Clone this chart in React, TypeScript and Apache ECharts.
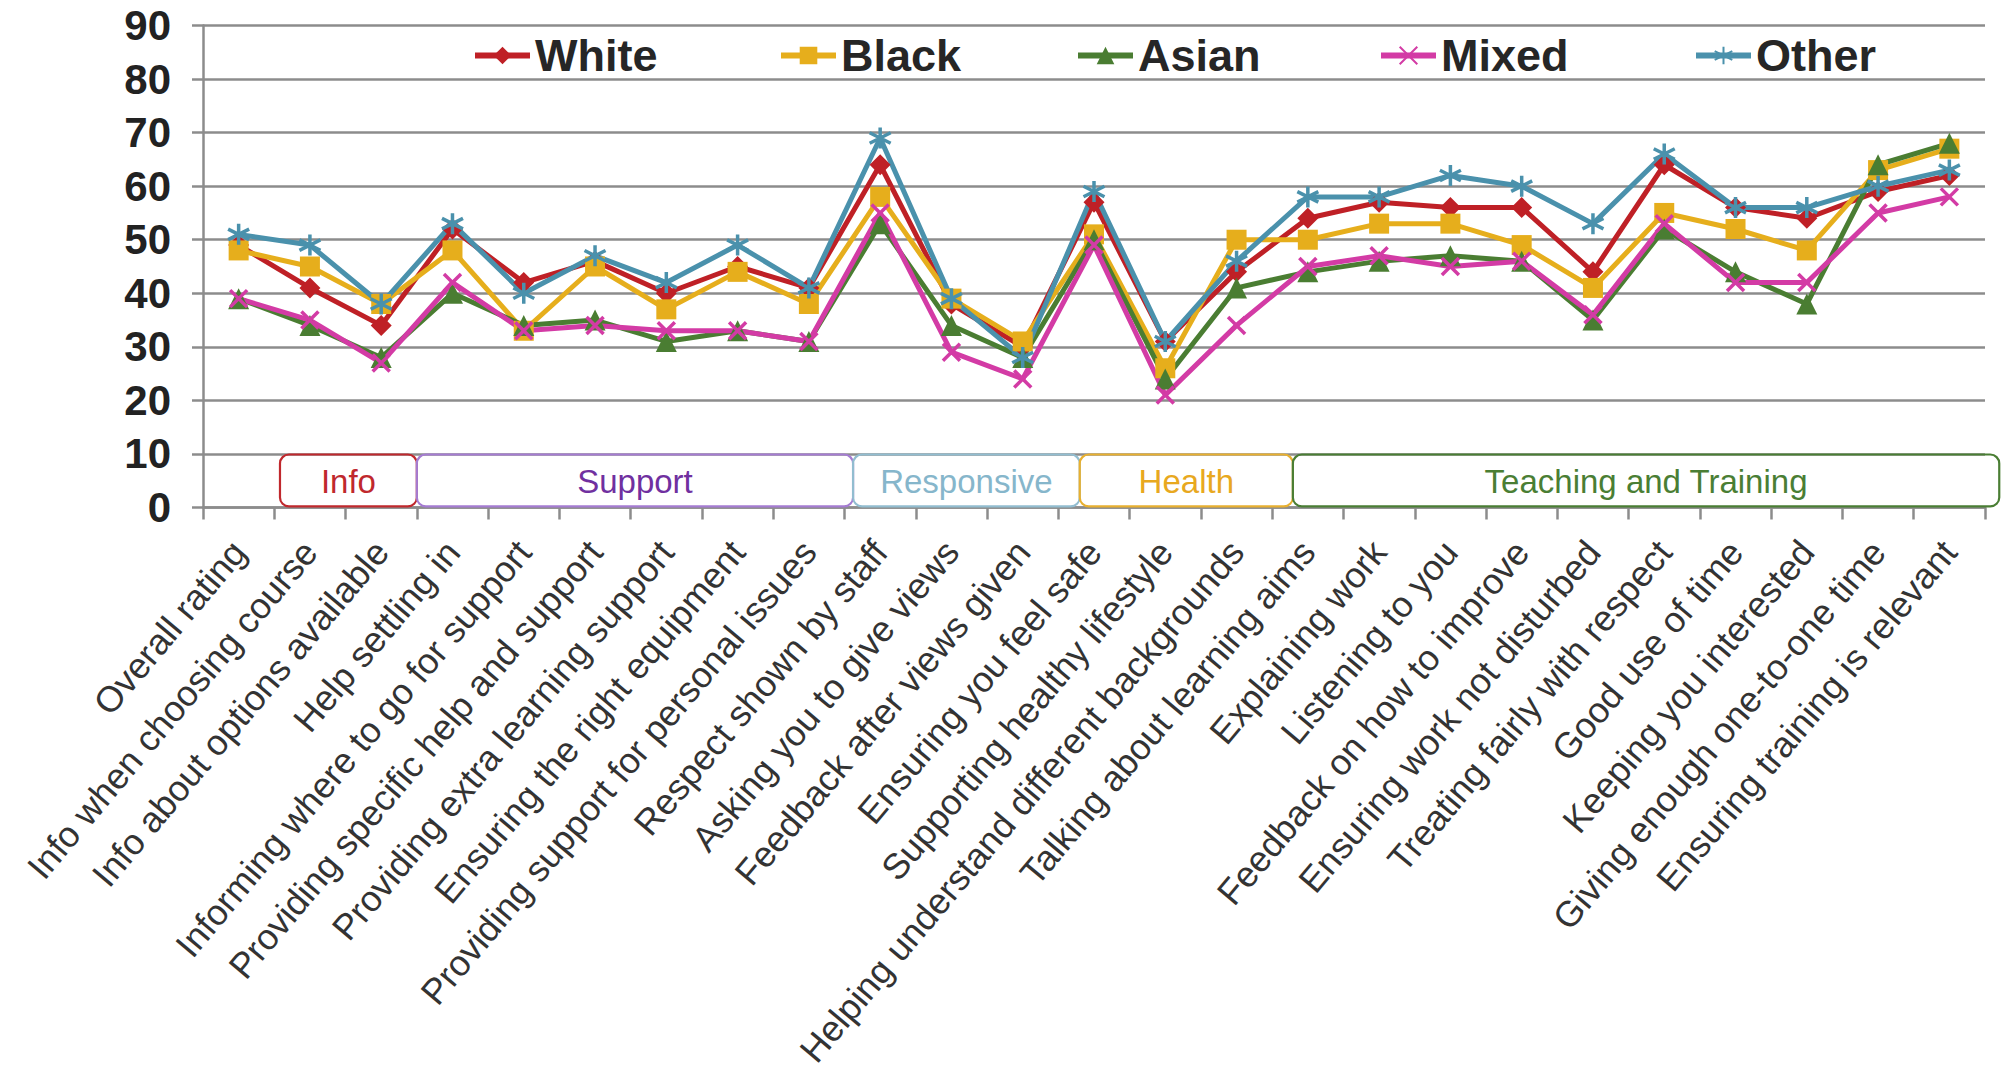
import React, { useEffect, useRef } from "react";
import * as echarts from "echarts";

const categories = [
  "Overall rating",
  "Info when choosing course",
  "Info about options available",
  "Help settling in",
  "Informing where to go for support",
  "Providing specific help and support",
  "Providing extra learning support",
  "Ensuring the right equipment",
  "Providing support for personal issues",
  "Respect shown by staff",
  "Asking you to give views",
  "Feedback after views given",
  "Ensuring you feel safe",
  "Supporting healthy lifestyle",
  "Helping understand different backgrounds",
  "Talking about learning aims",
  "Explaining work",
  "Listening to you",
  "Feedback on how to improve",
  "Ensuring work not disturbed",
  "Treating fairly with respect",
  "Good use of time",
  "Keeping you interested",
  "Giving enough one-to-one time",
  "Ensuring training is relevant",
];

const seriesNames = ["White", "Black", "Asian", "Mixed", "Other"];
const white = [49, 41, 34, 52, 42, 46, 40, 45, 41, 64, 38, 30, 57, 31, 44, 54, 57, 56, 56, 44, 64, 56, 54, 59, 62];
const black = [48, 45, 38, 48, 33, 45, 37, 44, 38, 58, 39, 31, 51, 26, 50, 50, 53, 53, 49, 41, 55, 52, 48, 63, 67];
const asian = [39, 34, 28, 40, 34, 35, 31, 33, 31, 53, 34, 28, 50, 24, 41, 44, 46, 47, 46, 35, 52, 44, 38, 64, 68];
const mixed = [39, 35, 27, 42, 33, 34, 33, 33, 31, 55, 29, 24, 49, 21, 34, 45, 47, 45, 46, 36, 53, 42, 42, 55, 58];
const other = [51, 49, 38, 53, 40, 47, 42, 49, 41, 69, 39, 28, 59, 31, 46, 58, 58, 62, 60, 53, 66, 56, 56, 60, 63];

const yTicks = { min: 0, max: 90, interval: 10 };

// theme groups: first and last category index
const groupNames = ["Info", "Support", "Responsive", "Health", "Teaching and Training"];
const groupFirst = [1, 3, 9, 12, 15];
const groupLast = [2, 8, 11, 14, 24];

// styling / layout (not data)
const seriesColors = ["#BF2026", "#E6AE1C", "#4A7D32", "#D33BA5", "#4A91AC"];
const legendLeft = [467, 773, 1070, 1373, 1688];
const groupTextColors = ["#C0282D", "#7030A0", "#86B6CB", "#E8A820", "#4A7E34"];
const groupBorderColors = ["#C0282D", "#A57CD2", "#92BDD0", "#E8B030", "#4A7E34"];
const groupShiftLeft = [0.08, 0.0, 0.12, 0.3, 0.29];
const groupShiftRight = [0.0, 0.12, 0.3, 0.29, 0.2];

const FONT = "'Liberation Sans', Arial, sans-serif";

const X_PATH = "path://M0 0L10 10M10 0L0 10";
const STAR_PATH = "path://M5 0L5 10M0.7 2.5L9.3 7.5M0.7 7.5L9.3 2.5";

export default function App() {
  const ref = useRef<HTMLDivElement>(null);

  useEffect(() => {
    if (!ref.current) return;
    const chart = echarts.init(ref.current, undefined, { renderer: "svg" });

    const mk = (i: number, data: number[], symbol: string, size: number, stroke: boolean) => {
      const color = seriesColors[i];
      return {
        name: seriesNames[i],
        type: "line",
        data,
        symbol,
        symbolSize: size,
        lineStyle: { color, width: 5 },
        itemStyle: stroke
          ? { color, borderColor: color, borderWidth: 3.5 }
          : { color, borderWidth: 0 },
        emphasis: { disabled: true },
        z: 3,
      };
    };

    const legends = seriesNames.map((n, i) => ({
      left: legendLeft[i],
      top: 28,
      itemGap: 0,
      itemWidth: 55,
      itemHeight: 22,
      lineStyle: { width: 6 },
      textStyle: { fontSize: 45, fontWeight: "bold", color: "#262626", fontFamily: FONT },
      data: [n],
    }));

    const option: any = {
      animation: false,
      backgroundColor: "#ffffff",
      textStyle: { fontFamily: FONT },
      grid: {
        left: 203,
        right: 18,
        top: 25.5,
        bottom: 575.5,
        containLabel: false,
        outerBoundsMode: "none",
      },
      legend: legends,
      xAxis: {
        type: "category",
        data: categories,
        boundaryGap: true,
        axisLine: { lineStyle: { color: "#8c8c8c", width: 2.5 } },
        axisTick: { show: true, length: 12, interval: 0, lineStyle: { color: "#8c8c8c", width: 2.5 } },
        axisLabel: {
          interval: 0,
          rotate: 50,
          fontSize: 36,
          color: "#333333",
          margin: 38,
          fontFamily: FONT,
        },
      },
      yAxis: {
        type: "value",
        min: yTicks.min,
        max: yTicks.max,
        interval: yTicks.interval,
        axisLine: { show: true, lineStyle: { color: "#8c8c8c", width: 2.5 } },
        axisTick: { show: true, length: 11, lineStyle: { color: "#8c8c8c", width: 2.5 } },
        splitLine: { lineStyle: { color: "#8c8c8c", width: 2.5 } },
        axisLabel: { fontSize: 42, fontWeight: "bold", color: "#222222", margin: 32, fontFamily: FONT },
      },
      series: [
        mk(0, white, "diamond", 21, false),
        mk(1, black, "rect", 20, false),
        mk(2, asian, "triangle", 21, false),
        mk(3, mixed, X_PATH, 17, true),
        mk(4, other, STAR_PATH, 21, true),
      ],
    };

    chart.setOption(option);

    const c0 = chart.convertToPixel({ xAxisIndex: 0 }, 0) as number;
    const c1 = chart.convertToPixel({ xAxisIndex: 0 }, 1) as number;
    const unit = c1 - c0;
    const boundary = (k: number) => c0 - unit / 2 + k * unit;
    const yTop = chart.convertToPixel({ yAxisIndex: 0 }, 9.9) as number;
    const yBot = chart.convertToPixel({ yAxisIndex: 0 }, 0.2) as number;

    const graphic: any[] = [];
    groupNames.forEach((name, i) => {
      const x0 = boundary(groupFirst[i] + groupShiftLeft[i]);
      const x1 = boundary(groupLast[i] + 1 + groupShiftRight[i]);
      graphic.push({
        type: "rect",
        shape: { x: x0, y: yTop, width: x1 - x0, height: yBot - yTop, r: 9 },
        style: { fill: "rgba(255,255,255,0)", stroke: groupBorderColors[i], lineWidth: 2.2 },
        z: 10,
      });
      graphic.push({
        type: "text",
        x: (x0 + x1) / 2,
        y: (yTop + yBot) / 2 + 1,
        style: {
          text: name,
          fill: groupTextColors[i],
          font: `33px ${FONT}`,
          align: "center",
          verticalAlign: "middle",
        },
        z: 11,
      });
    });
    chart.setOption({ graphic });

    return () => chart.dispose();
  }, []);

  return (
    <div
      ref={ref}
      style={{ position: "fixed", left: 0, top: 0, width: 2003, height: 1083, background: "#fff" }}
    />
  );
}
